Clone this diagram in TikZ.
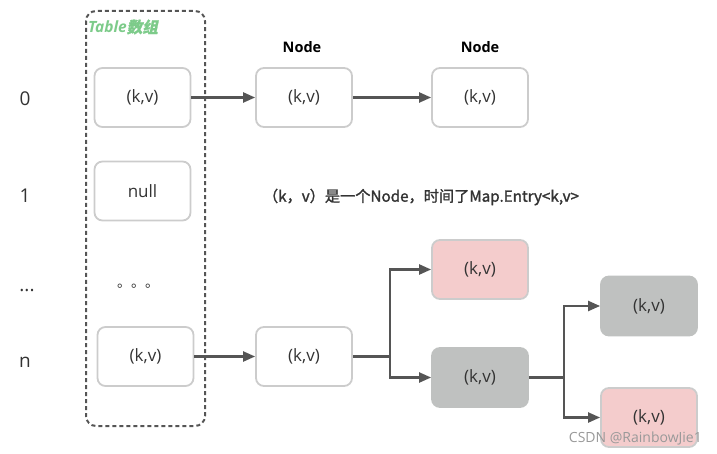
\documentclass[tikz,border=0pt]{standalone}
\usepackage{fontspec}
\setmainfont{Open Sans}
\newfontfamily\cjk{Noto Sans CJK SC}
\newfontfamily\cjkb[FakeBold=1.5]{Noto Sans CJK SC}
\newfontfamily\cjkbi[FakeBold=1.5,FakeSlant=0.2]{Noto Sans CJK SC}
\usetikzlibrary{arrows.meta}
\definecolor{bordergray}{HTML}{CCCCCC}
\definecolor{pinkfill}{HTML}{F4CCCC}
\definecolor{grayfill}{HTML}{BFC1C0}
\definecolor{linegray}{HTML}{555555}
\definecolor{txt}{HTML}{333333}
\definecolor{titlegreen}{HTML}{7DCB8A}
\begin{document}
\begin{tikzpicture}[x=1pt,y=-1pt,
  kvbox/.style={draw=bordergray, line width=1.8pt, rounded corners=8pt, minimum width=96pt, minimum height=59pt, inner sep=0pt, text=txt, font=\fontsize{17}{20}\selectfont},
  pinkbox/.style={kvbox, fill=pinkfill, draw=bordergray},
  graybox/.style={kvbox, fill=grayfill, draw=grayfill},
  idx/.style={text=txt, font=\fontsize{19}{22}\selectfont},
  nodelbl/.style={text=black, font=\fontsize{14.5}{16}\selectfont\bfseries},
  conn/.style={draw=linegray, line width=2.2pt, -{Triangle[length=12pt,width=10pt]}},
  plain/.style={draw=linegray, line width=2.2pt}
]
\useasboundingbox (0,0) rectangle (717,454);
% table frame
\draw[linegray, line width=2pt, dash pattern=on 4pt off 3pt, rounded corners=10pt] (86,11) rectangle (205,426);
\node[anchor=west, text=titlegreen, inner sep=0pt] (title) at (88,27) {\fontsize{15.5}{18}\selectfont\bfseries\itshape Table\cjkbi 数组};
% index labels
\node[idx] (i0) at (25,99) {0};
\node[idx] (i1) at (25,196) {1};
\node[idx] (idots) at (27,291) {...};
\node[idx] (in) at (25,362) {n};
% table boxes
\node[kvbox] (t0) at (142.5,97.5) {(k,v)};
\node[kvbox] (t1) at (142.5,191) {null};
\node[text=txt, font=\fontsize{14}{16}\selectfont\cjk] (tdots) at (138,286) {。。。};
\node[kvbox] (tn) at (145.5,356.5) {(k,v)};
% top chain
\node[kvbox] (a1) at (304,97.5) {(k,v)};
\node[kvbox] (a2) at (480,97.5) {(k,v)};
\node[nodelbl] (l1) at (302,47) {Node};
\node[nodelbl] (l2) at (480,47) {Node};
\draw[conn] (t0) -- (a1);
\draw[conn] (a1) -- (a2);
% note
\node[text=txt, font=\fontsize{15.2}{18}\selectfont\cjkb] (note) at (421,197) {（k，v）是一个Node，时间了Map.Entry<k,v>};
% tree
\node[kvbox] (b1) at (304,356.5) {(k,v)};
\node[pinkbox] (p1) at (480,269.5) {(k,v)};
\node[graybox] (g1) at (480,377.5) {(k,v)};
\node[graybox] (g2) at (649,306) {(k,v)};
\node[pinkbox] (p2) at (649,417.5) {(k,v)};
\draw[conn] (tn) -- (b1);
\coordinate (j1) at (390,356.5);
\coordinate (j2) at (564,377.5);
\draw[plain] (b1.east) -- (j1);
\draw[conn] (j1) |- (p1.west);
\draw[conn] (j1) |- (g1.west);
\draw[plain] (g1.east) -- (j2);
\draw[conn] (j2) |- (g2.west);
\draw[conn] (j2) |- (p2.west);
% watermark
\node[anchor=east, text=gray!80, font=\fontsize{14}{16}\selectfont, inner sep=0pt] (wm) at (702,438) {CSDN @RainbowJie1};
\end{tikzpicture}
\end{document}
